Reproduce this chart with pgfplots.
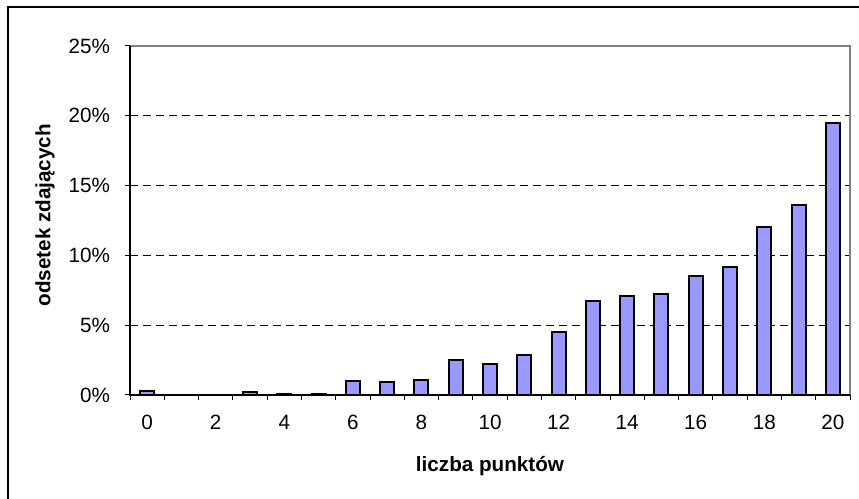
\documentclass[border=0pt]{standalone}
\usepackage{fontspec}
\setmainfont{Liberation Sans}
\usepackage{pgfplots}
\pgfplotsset{compat=1.18}
\definecolor{barblue}{HTML}{9999FF}
\definecolor{framegray}{HTML}{808080}
\begin{document}
\begin{tikzpicture}
\useasboundingbox (0pt,0pt) rectangle (644.25pt,374.25pt);
\draw[black,line width=0.9pt] (6pt,-5pt) -- (6pt,369pt) -- (650pt,369pt);
\begin{axis}[
  at={(97.5pt,78pt)}, anchor=south west, scale only axis,
  width=540pt, height=261.75pt,
  xmin=-0.5, xmax=20.5, ymin=0, ymax=25,
  xtick={-0.5,0.5,...,20.5},
  xticklabels={,,},
  extra x ticks={0,2,...,20},
  extra x tick labels={0,2,4,6,8,10,12,14,16,18,20},
  extra x tick style={major tick length=0pt},
  ytick={0,5,...,25},
  yticklabel={\pgfmathprintnumber{\tick}\%},
  /pgf/number format/assume math mode=true,
  xtick pos=lower, ytick pos=left,
  tick align=outside,
  major tick length=3.75pt,
  tick style={black, line width=0.75pt},
  axis line style={draw=none},
  ymajorgrids,
  major grid style={black, dash pattern=on 6pt off 3.75pt, line width=0.75pt},
  tick label style={font=\fontsize{15.5}{18}\selectfont},
  xticklabel style={yshift=-11.5pt},
  yticklabel style={xshift=-7.8pt},
  label style={font=\fontsize{15.5}{18}\selectfont\bfseries},
  xlabel={liczba punktów},
  ylabel={odsetek zdających},
  xlabel style={at={(axis description cs:0.5,-0.2034)}, anchor=center},
  ylabel style={at={(axis description cs:-0.118,0.515)}, anchor=center},
  clip=false,
]
\addplot[ybar, bar width=10.5pt, fill=barblue, draw=black, line width=1.5pt] coordinates {
(0,0.3) (1,0) (2,0) (3,0.2) (4,0.1) (5,0.1) (6,1.0) (7,0.9) (8,1.1) (9,2.5)
(10,2.2) (11,2.9) (12,4.5) (13,6.7) (14,7.1) (15,7.2) (16,8.5) (17,9.2)
(18,12.0) (19,13.6) (20,19.5)
};
\draw[framegray, line width=1.5pt] (rel axis cs:0,1) -- (rel axis cs:1,1) -- (rel axis cs:1,0);
\draw[black, line width=1pt] (rel axis cs:0,1) -- (rel axis cs:0,0) -- (rel axis cs:1,0);
\end{axis}
\end{tikzpicture}
\end{document}
